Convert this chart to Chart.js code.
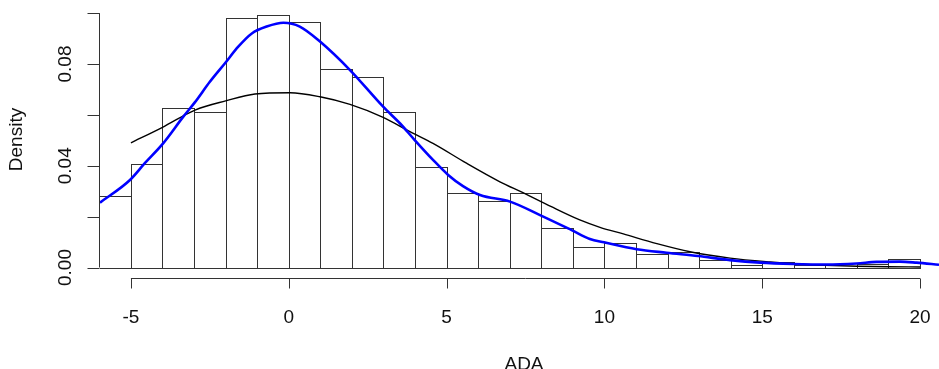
<!DOCTYPE html>
<html><head><meta charset="utf-8">
<script src="https://cdn.jsdelivr.net/npm/chart.js@4/dist/chart.umd.min.js"></script>
<style>html,body{margin:0;padding:0;background:#fff;overflow:hidden}#wrap{width:939px;height:369px}</style>
</head><body><div id="wrap"><canvas id="c" width="939" height="369"></canvas></div>
<script>
// Histogram bins (mid-points, width 1) and densities
const binMids = [-5.5,-4.5,-3.5,-2.5,-1.5,-0.5,0.5,1.5,2.5,3.5,4.5,5.5,6.5,7.5,8.5,9.5,10.5,11.5,12.5,13.5,14.5,15.5,16.5,17.5,18.5,19.5];
const binDensity = [0.0282,0.0406,0.0626,0.0611,0.0980,0.0991,0.0965,0.0779,0.0750,0.0611,0.0396,0.0294,0.0260,0.0294,0.0154,0.0082,0.0095,0.0052,0.0060,0.0029,0.0010,0.0020,0.0008,0.0000,0.0012,0.0032];

// Kernel density (blue)
const kdeX = [-5.98,-5.03,-4.56,-3.98,-3.34,-2.97,-2.50,-2.02,-1.60,-1.17,-0.70,-0.17,0.35,0.99,1.94,2.99,3.52,3.99,4.57,5.05,5.52,6.06,7.01,7.96,8.96,9.54,9.99,11.02,11.97,12.97,13.98,14.94,15.98,17.04,17.99,18.62,19.36,19.89,20.60];
const kdeY = [0.0255,0.0344,0.0410,0.0488,0.0593,0.0650,0.0730,0.0803,0.0868,0.0920,0.0947,0.0962,0.0947,0.0888,0.0776,0.0632,0.0567,0.0501,0.0423,0.0364,0.0320,0.0285,0.0259,0.0206,0.0147,0.0112,0.0099,0.0072,0.0058,0.0045,0.0029,0.0019,0.0014,0.0012,0.0016,0.0022,0.0023,0.0019,0.0011];

// Normal curve (black)
const normX = [-5.0,-4.0,-2.97,-2.0,-1.07,0.04,0.99,1.94,2.99,3.84,4.57,5.63,6.69,7.42,8.3,9.2,9.86,10.6,11.66,12.71,13.98,15.25,16.3,17.0,18.0,19.0,20.0];
const normY = [0.0490,0.0551,0.0619,0.0655,0.0682,0.0687,0.0671,0.0641,0.0590,0.0534,0.0488,0.0410,0.0337,0.0294,0.0240,0.0188,0.0158,0.0132,0.0094,0.0062,0.0037,0.0022,0.0013,0.0009,0.0005,0.0003,0.0002];

const xTicks = [-5,0,5,10,15,20];
const xTickLabels = ["-5","0","5","10","15","20"];
const yTicks = [0,0.02,0.04,0.06,0.08,0.10];
const yLabelValues = [0,0.04,0.08];
const yLabelTexts = ["0.00","0.04","0.08"];
const xTitle = "ADA";
const yTitle = "Density";

const FONT = '"Liberation Sans", Arial, sans-serif';

// Outline histogram bars R-style (shared edges drawn once), using the bar elements' geometry
const barOutline = {
  id: 'barOutline',
  afterDatasetDraw(chart, args) {
    const meta = args.meta;
    if (meta.type !== 'bar') return;
    const ctx = chart.ctx, ca = chart.chartArea;
    ctx.save();
    ctx.beginPath();
    ctx.rect(ca.left, ca.top, ca.right - ca.left, ca.bottom - ca.top);
    ctx.clip();
    ctx.strokeStyle = '#333';
    ctx.lineWidth = 1;
    meta.data.forEach(el => {
      const p = el.getProps(['x', 'y', 'base', 'width'], true);
      const l = Math.round(p.x - p.width / 2) + 0.5;
      const r = Math.round(p.x + p.width / 2) + 0.5;
      const t = Math.round(p.y) + 0.5;
      const b = Math.round(p.base) + 0.5;
      ctx.strokeRect(l, t, r - l, b - t);
    });
    ctx.restore();
  }
};

const rAxes = {
  id: 'rAxes',
  afterDraw(chart) {
    const ctx = chart.ctx, xs = chart.scales.x, ys = chart.scales.y, ca = chart.chartArea;
    ctx.save();
    ctx.strokeStyle = '#333';
    ctx.lineWidth = 1;
    // y axis
    const ax = Math.round(ca.left) - 0.5;
    ctx.beginPath();
    ctx.moveTo(ax, ys.getPixelForValue(yTicks[0]));
    ctx.lineTo(ax, ys.getPixelForValue(yTicks[yTicks.length-1]));
    yTicks.forEach(v => {
      const p = Math.round(ys.getPixelForValue(v)) + 0.5;
      ctx.moveTo(ax, p); ctx.lineTo(ax - 12, p);
    });
    ctx.stroke();
    // x axis
    const ay = Math.round(ca.bottom) - 0.5;
    ctx.beginPath();
    ctx.moveTo(xs.getPixelForValue(xTicks[0]), ay);
    ctx.lineTo(xs.getPixelForValue(xTicks[xTicks.length-1]), ay);
    xTicks.forEach(v => {
      const p = Math.round(xs.getPixelForValue(v)) + 0.5;
      ctx.moveTo(p, ay); ctx.lineTo(p, ay + 10);
    });
    ctx.stroke();
    // labels
    ctx.fillStyle = '#111';
    ctx.font = '19px ' + FONT;
    ctx.textAlign = 'center';
    ctx.textBaseline = 'alphabetic';
    xTicks.forEach((v, i) => {
      ctx.fillText(xTickLabels[i], xs.getPixelForValue(v), 323);
    });
    yLabelValues.forEach((v, i) => {
      ctx.save();
      ctx.translate(71, ys.getPixelForValue(v));
      ctx.rotate(-Math.PI/2);
      ctx.fillText(yLabelTexts[i], 0, 0);
      ctx.restore();
    });
    ctx.fillText(xTitle, 524, 370);
    ctx.save();
    ctx.translate(22, (ca.top + ca.bottom) / 2);
    ctx.rotate(-Math.PI/2);
    ctx.fillText(yTitle, 0, 0);
    ctx.restore();
    ctx.restore();
  }
};

new Chart(document.getElementById('c'), {
  type: 'bar',
  data: {
    datasets: [
      {
        type: 'line', order: 1,
        data: kdeX.map((x, i) => ({x, y: kdeY[i]})),
        borderColor: '#0000ff', borderWidth: 2.6, pointRadius: 0,
        cubicInterpolationMode: 'monotone', fill: false
      },
      {
        type: 'line', order: 2,
        data: normX.map((x, i) => ({x, y: normY[i]})),
        borderColor: '#000', borderWidth: 1.4, pointRadius: 0,
        cubicInterpolationMode: 'monotone', fill: false
      },
      {
        type: 'bar', order: 3,
        data: binMids.map((x, i) => ({x, y: binDensity[i]})),
        backgroundColor: '#fff', borderWidth: 0,
        barPercentage: 1, categoryPercentage: 1
      }
    ]
  },
  options: {
    responsive: false, animation: false, devicePixelRatio: 1,
    layout: {padding: {left: 100, right: 0, top: 0, bottom: 90}},
    plugins: {legend: {display: false}, tooltip: {enabled: false}},
    scales: {
      x: {type: 'linear', min: -5.98, max: 20.6, display: false, offset: false},
      y: {type: 'linear', min: -0.00452, max: 0.10515, display: false}
    }
  },
  plugins: [barOutline, rAxes]
});
</script>
</body></html>
